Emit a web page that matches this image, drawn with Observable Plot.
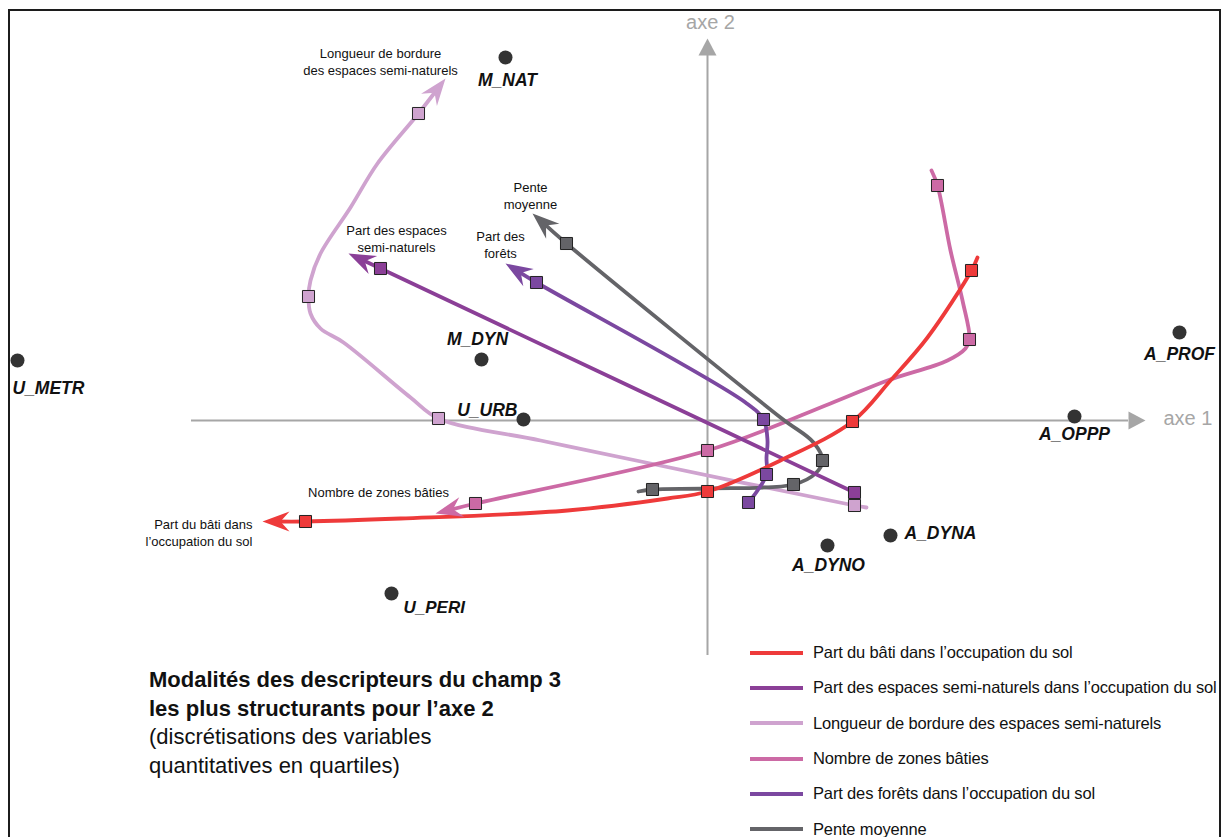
<!DOCTYPE html>
<html>
<head>
<meta charset="utf-8">
<script src="https://cdn.jsdelivr.net/npm/d3@7"></script>
<script src="https://cdn.jsdelivr.net/npm/@observablehq/plot@0.6"></script>
<style>
  html, body { margin: 0; padding: 0; background: #fff; }
  body { width: 1221px; height: 837px; overflow: hidden; position: relative;
         font-family: "Liberation Sans", Arial, sans-serif; color: #111; }
  #chart { position: absolute; left: 0; top: 0; }
  #frame { position: absolute; left: 8px; top: 9px; width: 1213px; height: 900px;
           box-sizing: border-box; border: 2px solid #1c1c1c; pointer-events: none; }
  #title { position: absolute; left: 149px; top: 666px; font-size: 22px; line-height: 28.5px; }
  #title b { font-weight: bold; }
  #legend { position: absolute; left: 750px; top: 635px; }
  .row { display: flex; align-items: center; height: 35.3px; white-space: nowrap; }
  .sw { width: 53px; height: 4px; margin-right: 10px; flex: none; }
  .lt { font-size: 16.5px; letter-spacing: -0.15px; }
</style>
</head>
<body>
<div id="chart"></div>
<div id="title"><b>Modalités des descripteurs du champ 3<br>les plus structurants pour l’axe 2</b><br>(discrétisations des variables<br>quantitatives en quartiles)</div>
<div id="legend"></div>
<div id="frame"></div>
<script>
// ---------- DATA ----------
const seriesNames = [
  "Part du bâti dans l’occupation du sol",
  "Part des espaces semi-naturels dans l’occupation du sol",
  "Longueur de bordure des espaces semi-naturels",
  "Nombre de zones bâties",
  "Part des forêts dans l’occupation du sol",
  "Pente moyenne"
];
const seriesLabels = [
  "Part du bâti dans\nl’occupation du sol",
  "Part des espaces\nsemi-naturels",
  "Longueur de bordure\ndes espaces semi-naturels",
  "Nombre de zones bâties",
  "Part des\nforêts",
  "Pente\nmoyenne"
];
const seriesColors = ["#ee3a3a", "#8b3f97", "#cfa3cf", "#cc6aa5", "#7b48a0", "#646468"];

// trajectories on the factorial plane [axe 1, axe 2]; first point = arrow tip
const pathBati = [[-2.225,-0.505],[-2.01,-0.505],[-1.535,-0.49],[-0.7,-0.45],[-0.2,-0.39],[0,-0.355],[0.365,-0.2],[0.725,-0.005],[0.915,0.2],[1.1,0.415],[1.32,0.75],[1.35,0.815]];
const pathEspaces = [[-1.795,0.835],[-1.635,0.76],[0.735,-0.36]];
const pathBordure = [[-1.31,1.71],[-1.445,1.535],[-1.65,1.285],[-1.785,1.065],[-1.935,0.835],[-1.985,0.7],[-1.995,0.62],[-1.985,0.535],[-1.935,0.46],[-1.82,0.39],[-1.485,0.115],[-1.345,0.01],[-0.835,-0.1],[-0.285,-0.215],[0.735,-0.425],[0.795,-0.435]];
const pathZones = [[-1.36,-0.465],[-1.16,-0.415],[0,-0.15],[0.615,0.085],[0.9,0.2],[1.2,0.3],[1.29,0.36],[1.31,0.405],[1.275,0.6],[1.215,0.85],[1.15,1.175],[1.12,1.25]];
const pathForets = [[-1.01,0.785],[-0.855,0.69],[0.19,0.09],[0.28,0.005],[0.3,-0.1],[0.295,-0.185],[0.295,-0.27],[0.25,-0.35],[0.205,-0.41]];
const pathPente = [[-0.875,1.035],[-0.705,0.885],[0.365,0.015],[0.53,-0.11],[0.575,-0.2],[0.54,-0.265],[0.43,-0.32],[0,-0.34],[-0.275,-0.345],[-0.345,-0.355]];

// modalities (quartile classes) of each descriptor
const modBati = [[-2.01,-0.505],[0,-0.355],[0.725,-0.005],[1.32,0.75]];
const modEspaces = [[-1.635,0.76],[0.735,-0.36]];
const modBordure = [[-1.445,1.535],[-1.995,0.62],[-1.345,0.01],[0.735,-0.425]];
const modZones = [[-1.16,-0.415],[0,-0.15],[1.31,0.405],[1.15,1.175]];
const modForets = [[-0.855,0.69],[0.28,0.005],[0.295,-0.27],[0.205,-0.41]];
const modPente = [[-0.705,0.885],[0.575,-0.2],[0.43,-0.32],[-0.275,-0.345]];

// supplementary individuals / groups
const indivNames = ["M_NAT","U_METR","M_DYN","U_URB","A_PROF","A_OPPP","A_DYNA","A_DYNO","U_PERI"];
const indivAxe1 = [-1.01,-3.45,-1.13,-0.92,2.36,1.835,0.915,0.6,-1.58];
const indivAxe2 = [1.815,0.3,0.305,0.005,0.44,0.02,-0.575,-0.625,-0.865];

// axes
const axisNames = ["axe 1", "axe 2"];
const axe1Extent = [-2.58, 2.19];
const axe2Extent = [-1.175, 1.91];

// ---------- LAYOUT / STYLE ----------
const W = 1221, H = 837;
const xDomain = [-3.535, 2.57], yDomain = [-2.085, 2.1];
const upp = (xDomain[1] - xDomain[0]) / W; // data units per pixel
const axisColor = "#a6a6a6";
const drawOrder = [2, 3, 5, 1, 4, 0];
const seriesLabelLayout = [
  {dx: -10, dy: 11, anchor: "end"},
  {dx: 48, dy: -15.5, anchor: "middle"},
  {dx: -65, dy: -17, anchor: "middle"},
  {dx: -57, dy: -22, anchor: "middle"},
  {dx: -5, dy: -19, anchor: "middle"},
  {dx: -2, dy: -18, anchor: "middle"}
];
const indivLabelLayout = [
  {dx: 2, dy: 23, anchor: "middle"},
  {dx: -5, dy: 28, anchor: "start"},
  {dx: -4, dy: -20, anchor: "middle"},
  {dx: -6, dy: -9, anchor: "end"},
  {dx: 0, dy: 22, anchor: "middle"},
  {dx: 0, dy: 18, anchor: "middle"},
  {dx: 14, dy: -2, anchor: "start"},
  {dx: 1, dy: 20, anchor: "middle"},
  {dx: 12, dy: 14, anchor: "start", size: 17, ls: "-0.8px"}
];

const barbedHead = {draw(ctx) { ctx.moveTo(0, 0); ctx.lineTo(-27, -10); ctx.lineTo(-18, 0); ctx.lineTo(-27, 10); ctx.closePath(); }};
const triHead = {draw(ctx) { ctx.moveTo(0, 0); ctx.lineTo(-17, -9); ctx.lineTo(-17, 9); ctx.closePath(); }};

const paths = [pathBati, pathEspaces, pathBordure, pathZones, pathForets, pathPente];
const mods = [modBati, modEspaces, modBordure, modZones, modForets, modPente];

const lineData = paths.map((p, k) => {
  const [tx, ty] = p[0], [nx, ny] = p[1];
  const d = Math.hypot(nx - tx, ny - ty), s = 12 * upp / d;
  const base = [tx + (nx - tx) * s, ty + (ny - ty) * s];
  return [base, ...p.slice(1)].map(([x, y]) => ({x, y, s: seriesNames[k]}));
});
const heads = paths.map((p, k) => ({
  x: p[0][0], y: p[0][1], s: seriesNames[k], label: seriesLabels[k],
  angle: Math.atan2(-(p[0][1] - p[1][1]), p[0][0] - p[1][0]) * 180 / Math.PI
}));
const modData = mods.map((m, k) => m.map(([x, y]) => ({x, y, s: seriesNames[k]})));
const indiv = indivNames.map((n, i) => ({name: n, x: indivAxe1[i], y: indivAxe2[i]}));

const base1 = axe1Extent[1] - 17 * upp, base2 = axe2Extent[1] - 17 * upp;

const marks = [
  // axes
  Plot.ruleY([0], {x1: axe1Extent[0], x2: base1, stroke: axisColor, strokeWidth: 2}),
  Plot.ruleX([0], {y1: axe2Extent[0], y2: base2, stroke: axisColor, strokeWidth: 2}),
  Plot.dot([{x: axe1Extent[1], y: 0}], {x: "x", y: "y", symbol: triHead, fill: axisColor, stroke: "none", rotate: 0}),
  Plot.dot([{x: 0, y: axe2Extent[1]}], {x: "x", y: "y", symbol: triHead, fill: axisColor, stroke: "none", rotate: -90}),
  Plot.text([{x: axe1Extent[1], y: 0, t: axisNames[0]}], {x: "x", y: "y", text: "t", dx: 18, dy: -2, textAnchor: "start", fill: axisColor, fontSize: 20, letterSpacing: "-0.5px"}),
  Plot.text([{x: 0, y: axe2Extent[1], t: axisNames[1]}], {x: "x", y: "y", text: "t", dx: 3, dy: -16, textAnchor: "middle", fill: axisColor, fontSize: 20, letterSpacing: "-0.5px"})
];

// trajectories
for (const k of drawOrder) {
  marks.push(Plot.line(lineData[k], {x: "x", y: "y", stroke: seriesColors[k], strokeWidth: 3.8, curve: "catmull-rom", strokeLinejoin: "round"}));
}
for (const k of drawOrder) {
  marks.push(Plot.dot([heads[k]], {x: "x", y: "y", symbol: barbedHead, fill: seriesColors[k], stroke: "none", rotate: "angle"}));
}
for (const k of drawOrder) {
  marks.push(Plot.dot(modData[k], {x: "x", y: "y", symbol: "square", r: 6.8, fill: seriesColors[k], stroke: "#222", strokeWidth: 1}));
}
// series labels
heads.forEach((h, k) => {
  const L = seriesLabelLayout[k];
  marks.push(Plot.text([h], {x: "x", y: "y", text: "label", dx: L.dx, dy: L.dy, textAnchor: L.anchor, lineAnchor: "middle", lineHeight: 1.3, fontSize: 13, fill: "#111", letterSpacing: "-0.3px"}));
});
// individuals
marks.push(Plot.dot(indiv, {x: "x", y: "y", r: 7, fill: "#333", stroke: "none"}));
indiv.forEach((d, i) => {
  const L = indivLabelLayout[i];
  marks.push(Plot.text([d], {x: "x", y: "y", text: "name", dx: L.dx, dy: L.dy, textAnchor: L.anchor, lineAnchor: "middle", fontSize: L.size || 17.5, fontWeight: "bold", fontStyle: "italic", fill: "#111", letterSpacing: L.ls || "-0.3px"}));
});

const chart = Plot.plot({
  width: W, height: H, margin: 0,
  x: {domain: xDomain, axis: null},
  y: {domain: yDomain, axis: null},
  style: {background: "transparent", fontFamily: "'Liberation Sans', Arial, sans-serif", overflow: "visible"},
  marks
});
document.getElementById("chart").append(chart);

// legend
const legend = d3.select("#legend");
seriesNames.forEach((n, k) => {
  const row = legend.append("div").attr("class", "row");
  row.append("div").attr("class", "sw").style("background", seriesColors[k]);
  row.append("span").attr("class", "lt").text(n);
});
</script>
</body>
</html>
